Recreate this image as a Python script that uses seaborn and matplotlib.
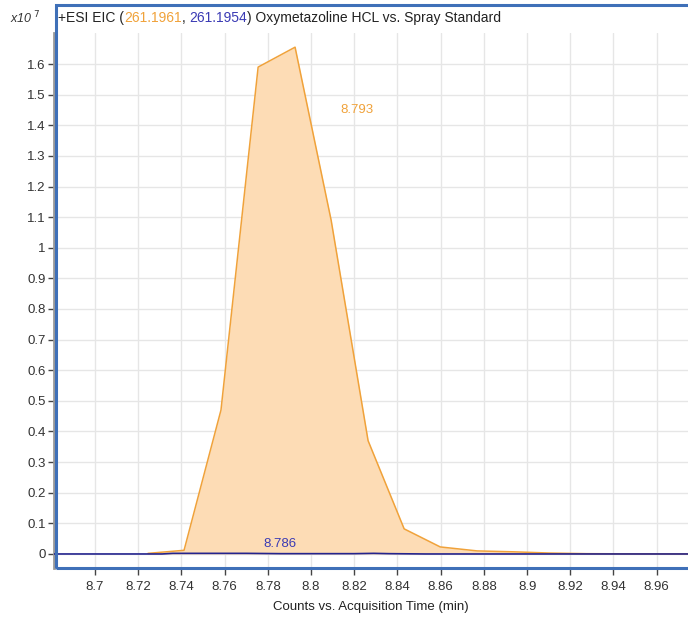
import matplotlib
matplotlib.use("Agg")
import matplotlib.pyplot as plt
from matplotlib.patches import Rectangle
from matplotlib.ticker import FuncFormatter
import seaborn as sns
import pandas as pd

# ---- data (counts in units of 1e7) ----
orange_time = [8.7245, 8.7412, 8.7583, 8.7755, 8.7926, 8.8093, 8.8264, 8.8431,
               8.8598, 8.8769, 8.8940, 8.9107, 8.9278, 8.9449, 8.9620, 8.9791]
orange_counts = [0.002, 0.012, 0.47, 1.59, 1.655, 1.09, 0.37, 0.082,
                 0.023, 0.010, 0.007, 0.003, 0.001, 0.0005, 0.0003, 0.0002]
blue_time = [8.680, 8.697, 8.714, 8.731, 8.736, 8.753, 8.770, 8.786, 8.803,
             8.820, 8.829, 8.836, 8.853, 8.870, 8.887, 8.904, 8.921, 8.938,
             8.955, 8.972, 8.980]
blue_counts = [0, 0, 0, 0, 0.002, 0.002, 0.002, 0.001, 0.001,
               0.001, 0.002, 0.001, 0, 0, 0, 0, 0, 0,
               0, 0, 0]
orange_peak_label = "8.793"
blue_peak_label = "8.786"
x_ticks = [8.70, 8.72, 8.74, 8.76, 8.78, 8.80, 8.82, 8.84, 8.86, 8.88, 8.90,
           8.92, 8.94, 8.96]
y_ticks = [0.0, 0.1, 0.2, 0.3, 0.4, 0.5, 0.6, 0.7, 0.8, 0.9, 1.0, 1.1, 1.2,
           1.3, 1.4, 1.5, 1.6]

ORANGE_LINE = "#F0A23A"
ORANGE_FILL = "#FDDCB5"
BLUE_LINE = "#24248E"
BLUE_TEXT = "#3A3AB4"
FRAME = "#3F70B8"

sns.set_style("whitegrid")
plt.rcParams["font.family"] = ["Liberation Sans", "DejaVu Sans"]

W, H = 688, 617
fig = plt.figure(figsize=(W / 100, H / 100), dpi=100)
ax = fig.add_axes([54 / W, 1 - 568 / H, (W - 54) / W, (568 - 33) / H])

df_o = pd.DataFrame({"time": orange_time, "counts": orange_counts})
df_b = pd.DataFrame({"time": blue_time, "counts": blue_counts})

ax.fill_between(df_o["time"], df_o["counts"], 0, color=ORANGE_FILL, lw=0, zorder=2)
sns.lineplot(data=df_o, x="time", y="counts", ax=ax, color=ORANGE_LINE, lw=1.1,
             zorder=3, estimator=None, sort=False)
sns.lineplot(data=df_b, x="time", y="counts", ax=ax, color=BLUE_LINE, lw=1.2,
             zorder=4, estimator=None, sort=False)

ax.text(8.8213, 1.451, orange_peak_label, color=ORANGE_LINE, fontsize=9.5,
        ha="center", va="center", zorder=5)
ax.text(8.7855, 0.033, blue_peak_label, color=BLUE_TEXT, fontsize=9.5,
        ha="center", va="center", zorder=5)

ax.set_xlim(8.681, 8.9745)
ax.set_ylim(-0.0458, 1.7013)
ax.set_xticks(x_ticks)
ax.set_yticks(y_ticks)
ax.xaxis.set_major_formatter(FuncFormatter(lambda v, p: f"{v:g}"))
ax.yaxis.set_major_formatter(FuncFormatter(lambda v, p: f"{v:g}"))

ax.grid(True, color="#E6E6E6", lw=1.0)
ax.set_axisbelow(True)
for s in ["top", "right", "bottom"]:
    ax.spines[s].set_visible(False)
ax.spines["left"].set_color("#9A9A9A")
ax.spines["left"].set_linewidth(2.0)
ax.tick_params(axis="y", direction="out", length=4, width=1, color="#444444",
               labelsize=9.5, labelcolor="#333333", pad=2, left=True)
ax.tick_params(axis="x", direction="out", length=5, width=1, color="#444444",
               labelsize=9.5, labelcolor="#333333", pad=4, bottom=True)
ax.set_xlabel("Counts vs. Acquisition Time (min)", fontsize=9.5, color="#222222",
              labelpad=6)
ax.set_ylabel("")

# blue frame around plot + header
fig.patches.append(Rectangle((56 / W, 1 - 568 / H), (W - 56 + 10) / W, (568 - 5) / H,
                             transform=fig.transFigure, fill=False,
                             edgecolor=FRAME, lw=2.2, zorder=10))

# header title with coloured m/z values
y_t = 1 - 18 / H
fig.text(10 / W, y_t, r"x10$^{\ 7}$", fontsize=9, color="#333333", va="center",
         ha="left", style="italic")
parts = [("+ESI EIC (", "#222222"), ("261.1961", ORANGE_LINE), (", ", "#222222"),
         ("261.1954", BLUE_TEXT), (") Oxymetazoline HCL vs. Spray Standard", "#222222")]
x_t = 58 / W
renderer = fig.canvas.get_renderer()
for txt, col in parts:
    t = fig.text(x_t, y_t, txt, fontsize=10, color=col, va="center", ha="left")
    bb = t.get_window_extent(renderer=renderer)
    x_t += bb.width / W

fig.savefig("out.png", dpi=100)
